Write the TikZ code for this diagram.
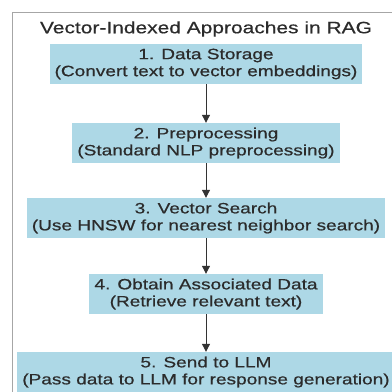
\documentclass[tikz,border=0pt]{standalone}
\usepackage{fontspec}
\usetikzlibrary{arrows.meta}
\newfontfamily\diagfont[FakeStretch=1.27, FakeBold=0.6]{Liberation Sans}
\definecolor{stagefill}{HTML}{ADD8E6}
\definecolor{stagetext}{HTML}{2B2B2B}

\begin{document}
\begin{tikzpicture}[
    x=1pt, y=1pt,
    stage/.style={rectangle, fill=stagefill, text=stagetext, align=center, inner xsep=5pt, inner ysep=0pt, minimum height=40pt, font=\diagfont\fontsize{15}{17}\selectfont},
    flow/.style={-{Triangle[width=8pt,length=8pt]}, line width=1pt, draw=black!80}
]
    \useasboundingbox (0,0) rectangle (392,392);
    % frame, only its top and left sides are in view
    \draw[gray!70, line width=1pt] (12,0) -- (12,379) -- (392,379);

    % title
    \node[text=stagetext, font=\diagfont\fontsize{16.5}{19}\selectfont] (title) at (206,363) {Vector-Indexed Approaches in RAG};

    % stages
    \node[stage] (s1) at (206,328) {1. Data Storage\\(Convert text to vector embeddings)};
    \node[stage] (s2) at (206,249) {2. Preprocessing\\(Standard NLP preprocessing)};
    \node[stage] (s3) at (206,174) {3. Vector Search\\(Use HNSW for nearest neighbor search)};
    \node[stage] (s4) at (206,98) {4. Obtain Associated Data\\(Retrieve relevant text)};
    \node[stage] (s5) at (206,20) {5. Send to LLM\\(Pass data to LLM for response generation)};

    % arrows
    \draw[flow] (s1) -- (s2);
    \draw[flow] (s2) -- (s3);
    \draw[flow] (s3) -- (s4);
    \draw[flow] (s4) -- (s5);
\end{tikzpicture}
\end{document}
